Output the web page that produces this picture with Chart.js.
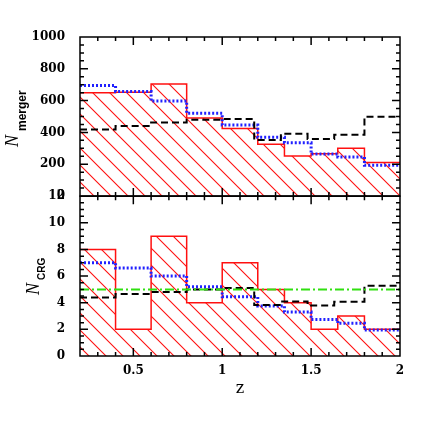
<!DOCTYPE html>
<html>
<head>
<meta charset="utf-8">
<script src="https://cdn.jsdelivr.net/npm/chart.js@4.4.0/dist/chart.umd.min.js"></script>
<style>
  html, body { margin: 0; padding: 0; background: #fff; }
  #wrap { position: relative; width: 436px; height: 436px; }
  canvas { position: absolute; left: 0; }
  #top { top: 0; }
  #bottom { top: 182px; }
</style>
</head>
<body>
<div id="wrap">
  <canvas id="top" width="436" height="212"></canvas>
  <canvas id="bottom" width="436" height="254"></canvas>
</div>
<script>
// bin edges (z)
const binEdges = [0.2, 0.4, 0.6, 0.8, 1.0, 1.2, 1.35, 1.5, 1.65, 1.8, 2.0];
const modelEdges = [0.2, 0.4, 0.6, 0.8, 1.0, 1.18, 1.33, 1.48, 1.63, 1.8, 2.0];

// upper panel: N merger
const mergerRed = [650, 652, 705, 490, 425, 325, 252, 266, 300, 210];
const mergerBlue = [695, 658, 597, 520, 446, 369, 335, 264, 245, 193];
const mergerBlack = [419, 440, 463, 480, 484, 352, 392, 358, 386, 499];

// lower panel: N CRG
const crgRed = [8, 2, 9, 4, 7, 5, 4, 2, 3, 2];
const crgBlue = [7.0, 6.6, 6.0, 5.2, 4.45, 3.75, 3.3, 2.75, 2.45, 1.95];
const crgBlack = [4.4, 4.65, 4.8, 5.0, 5.1, 3.83, 4.1, 3.8, 4.07, 5.27];
const crgMean = [5, 5];
const crgMeanZ = [0.2, 2.0];

// ticks
const zTicks = [0.5, 1, 1.5, 2];
const zTickLabels = ["0.5", "1", "1.5", "2"];
const mergerTicks = [0, 200, 400, 600, 800, 1000];
const mergerTickLabels = ["0", "200", "400", "600", "800", "1000"];
const crgTicks = [0, 2, 4, 6, 8, 10, 12];
const crgTickLabels = ["0", "2", "4", "6", "8", "10", "12"];

const RED = "#ff1010";
const BLUE = "#2020ff";
const GREEN = "#30e010";
const tickFont = { family: "DejaVu Serif", size: 12, weight: "bold" };

// histogram -> step points
function steps(edges, vals) {
  return edges.map((e, i) => ({ x: e, y: vals[Math.min(i, vals.length - 1)] }));
}

function hatch() {
  const s = 17;
  const c = document.createElement("canvas");
  c.width = s; c.height = s;
  const g = c.getContext("2d");
  g.strokeStyle = RED;
  g.lineWidth = 1.1;
  g.beginPath();
  g.moveTo(-2, -2); g.lineTo(s + 2, s + 2);
  g.moveTo(-2, s - 2); g.lineTo(2, s + 2);
  g.moveTo(s - 2, -2); g.lineTo(s + 2, 2);
  g.stroke();
  return g.createPattern(c, "repeat");
}

// box + inward ticks on all sides
const framePlugin = {
  id: "frame",
  afterDatasetsDraw(chart, args, opts) {
    const { ctx, chartArea: a } = chart;
    const x = chart.scales.x, y = chart.scales.y;
    const isMajor = (v, m) => Math.abs(v / m - Math.round(v / m)) < 1e-6;
    ctx.save();
    ctx.strokeStyle = "#000";
    ctx.lineWidth = 1.5;
    ctx.strokeRect(a.left, a.top, a.right - a.left, a.bottom - a.top);
    ctx.beginPath();
    let n = Math.round((x.max - x.min) / opts.xMinor);
    for (let i = 1; i < n; i++) {
      const v = x.min + i * opts.xMinor;
      const px = x.getPixelForValue(v);
      const l = isMajor(v, opts.xMajor) ? 8 : 4;
      ctx.moveTo(px, a.bottom); ctx.lineTo(px, a.bottom - l);
      ctx.moveTo(px, a.top); ctx.lineTo(px, a.top + l);
    }
    n = Math.round((y.max - y.min) / opts.yMinor);
    for (let i = 1; i < n; i++) {
      const v = y.min + i * opts.yMinor;
      const py = y.getPixelForValue(v);
      const l = isMajor(v, opts.yMajor) ? 8 : 4;
      ctx.moveTo(a.left, py); ctx.lineTo(a.left + l, py);
      ctx.moveTo(a.right, py); ctx.lineTo(a.right - l, py);
    }
    ctx.stroke();
    ctx.restore();
  }
};

// rotated y title with subscript
const yTitlePlugin = {
  id: "ytitle",
  afterDraw(chart, args, o) {
    const ctx = chart.ctx;
    ctx.save();
    ctx.translate(o.x, o.y);
    ctx.rotate(-Math.PI / 2);
    ctx.fillStyle = "#000";
    ctx.textAlign = "left";
    ctx.textBaseline = "alphabetic";
    ctx.font = "italic 18px 'Liberation Serif'";
    ctx.fillText("N", 0, 0);
    ctx.font = o.subFont;
    ctx.fillText(o.sub, o.subDx, o.subDy);
    ctx.restore();
  }
};

function yScale(min, max, ticks, labels) {
  return {
    min: min, max: max,
    afterBuildTicks: s => { s.ticks = ticks.map(v => ({ value: v })); },
    afterFit: s => { s.width = 80; },
    grid: { display: false },
    border: { display: false },
    ticks: { padding: 7, color: "#000", font: tickFont, callback: (v, i) => labels[i] }
  };
}

const pattern = hatch();

function histSets(red, blue, black) {
  return [
    { data: steps(binEdges, red), stepped: true, borderColor: RED, borderWidth: 1.5,
      backgroundColor: pattern, fill: "origin", pointRadius: 0, order: 4 },
    { data: steps(binEdges, blue), stepped: true, borderColor: BLUE, borderWidth: 3,
      borderDash: [2, 2], fill: false, pointRadius: 0, order: 3 },
    { data: steps(modelEdges, black), stepped: true, borderColor: "#000", borderWidth: 2,
      borderDash: [7, 4], fill: false, pointRadius: 0, order: 2 }
  ];
}

new Chart(document.getElementById("top"), {
  type: "line",
  data: { datasets: histSets(mergerRed, mergerBlue, mergerBlack) },
  options: {
    responsive: false, animation: false, devicePixelRatio: 1,
    layout: { padding: { top: 37, right: 36, bottom: 16, left: 0 } },
    plugins: {
      legend: { display: false }, tooltip: { enabled: false },
      frame: { xMinor: 0.1, xMajor: 0.5, yMinor: 50, yMajor: 200 },
      ytitle: { x: 18, y: 147, sub: "merger", subFont: "bold 12px 'Liberation Sans'", subDx: 16, subDy: 8 }
    },
    scales: {
      x: { type: "linear", min: 0.2, max: 2, display: false },
      y: yScale(0, 1000, mergerTicks, mergerTickLabels)
    }
  },
  plugins: [framePlugin, yTitlePlugin]
});

const crgSets = histSets(crgRed, crgBlue, crgBlack);
crgSets.push({ data: crgMeanZ.map((z, i) => ({ x: z, y: crgMean[i] })), borderColor: GREEN,
  borderWidth: 2, borderDash: [9, 3, 2, 3], fill: false, pointRadius: 0, order: 1 });

new Chart(document.getElementById("bottom"), {
  type: "line",
  data: { datasets: crgSets },
  options: {
    responsive: false, animation: false, devicePixelRatio: 1,
    layout: { padding: { top: 14, right: 36, bottom: 0, left: 0 } },
    plugins: {
      legend: { display: false }, tooltip: { enabled: false },
      frame: { xMinor: 0.1, xMajor: 0.5, yMinor: 0.5, yMajor: 2 },
      ytitle: { x: 39, y: 113, sub: "CRG", subFont: "bold 10px 'Liberation Sans'", subDx: 15, subDy: 6 }
    },
    scales: {
      x: {
        type: "linear", min: 0.2, max: 2,
        afterBuildTicks: s => { s.ticks = zTicks.map(v => ({ value: v })); },
        afterFit: s => { s.height = 80; },
        grid: { display: false },
        border: { display: false },
        ticks: { padding: 0, color: "#000", font: tickFont, autoSkip: false, maxRotation: 0,
          callback: (v, i) => zTickLabels[i] },
        title: { display: true, text: "z", color: "#000", font: { family: "DejaVu Serif", size: 16 },
          padding: { top: 0, bottom: 38 } }
      },
      y: yScale(0, 12, crgTicks, crgTickLabels)
    }
  },
  plugins: [framePlugin, yTitlePlugin]
});
</script>
</body>
</html>
